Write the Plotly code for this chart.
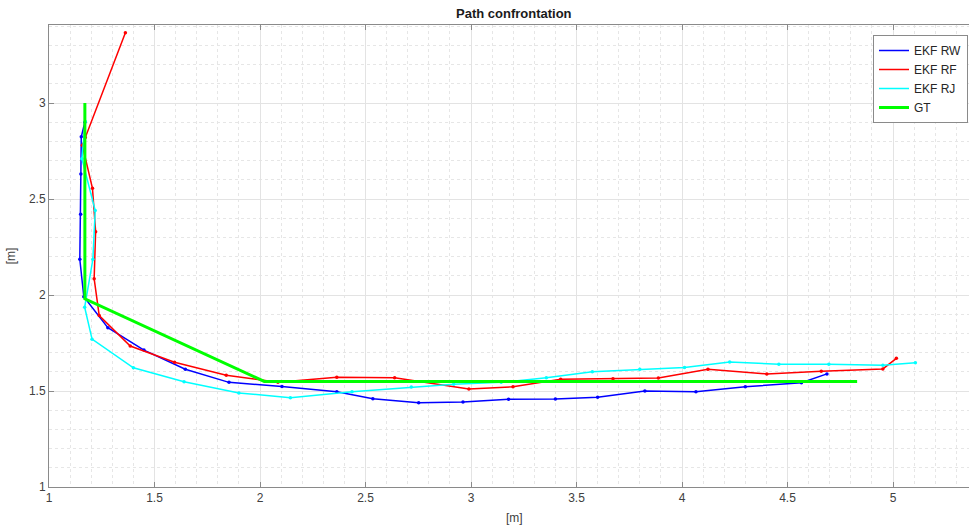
import plotly.graph_objects as go

# Estimated trajectories (x, y in metres)
ekf_rw_x = [1.170, 1.153, 1.151, 1.150, 1.146, 1.165, 1.279, 1.450, 1.646, 1.853, 2.104,
            2.364, 2.535, 2.752, 2.962, 3.178, 3.400, 3.600, 3.824, 4.066, 4.300, 4.566, 4.687]
ekf_rw_y = [2.900, 2.824, 2.630, 2.420, 2.186, 1.991, 1.830, 1.713, 1.613, 1.545, 1.524,
            1.496, 1.460, 1.439, 1.443, 1.457, 1.458, 1.467, 1.500, 1.496, 1.522, 1.543, 1.589]

ekf_rf_x = [1.362, 1.172, 1.158, 1.206, 1.221, 1.214, 1.238, 1.385, 1.595, 1.840, 2.085,
            2.364, 2.638, 2.990, 3.199, 3.425, 3.673, 3.888, 4.123, 4.402, 4.660, 4.952, 5.016]
ekf_rf_y = [3.366, 2.820, 2.780, 2.556, 2.330, 2.085, 1.893, 1.734, 1.650, 1.582, 1.545,
            1.571, 1.569, 1.510, 1.522, 1.561, 1.564, 1.568, 1.613, 1.589, 1.603, 1.615, 1.670]

ekf_rj_x = [1.172, 1.156, 1.219, 1.208, 1.169, 1.204, 1.400, 1.640, 1.900, 2.144, 2.436,
            2.717, 2.918, 3.143, 3.357, 3.575, 3.800, 4.012, 4.226, 4.459, 4.696, 4.952, 5.106]
ekf_rj_y = [2.903, 2.710, 2.440, 2.186, 1.936, 1.770, 1.621, 1.548, 1.490, 1.465, 1.496,
            1.521, 1.535, 1.545, 1.569, 1.600, 1.613, 1.623, 1.651, 1.639, 1.639, 1.634, 1.647]

# Ground truth path
gt_x = [1.17, 1.17, 2.02, 4.83]
gt_y = [3.00, 1.98, 1.55, 1.55]

x_ticks = [1, 1.5, 2, 2.5, 3, 3.5, 4, 4.5, 5]
y_ticks = [1, 1.5, 2, 2.5, 3]

FONT = "Liberation Sans, Arial, Helvetica, sans-serif"
AXIS_COLOR = "#8a8a8a"
TEXT_COLOR = "#404040"

fig = go.Figure()


def add_est(name, xs, ys, color):
    # path with point markers
    fig.add_trace(go.Scatter(
        x=xs, y=ys, name=name, mode="lines+markers", showlegend=False,
        line=dict(color=color, width=1.5),
        marker=dict(color=color, size=3.5, symbol="circle"),
    ))


def add_key(name, color, width):
    # line-only legend entry
    fig.add_trace(go.Scatter(
        x=[None], y=[None], name=name, mode="lines",
        line=dict(color=color, width=width),
    ))


add_est("EKF RW", ekf_rw_x, ekf_rw_y, "#0000ff")
add_est("EKF RF", ekf_rf_x, ekf_rf_y, "#ff0000")
add_est("EKF RJ", ekf_rj_x, ekf_rj_y, "#00ffff")
fig.add_trace(go.Scatter(
    x=gt_x, y=gt_y, name="GT", mode="lines", showlegend=False,
    line=dict(color="#00ff00", width=3),
))

add_key("EKF RW", "#0000ff", 1.5)
add_key("EKF RF", "#ff0000", 1.5)
add_key("EKF RJ", "#00ffff", 1.5)
add_key("GT", "#00ff00", 3)

W, H = 969, 527
ML, MR, MT, MB = 49, 0, 25, 40
plot_w = W - ML - MR

fig.update_layout(
    width=W, height=H,
    margin=dict(l=ML, r=MR, t=MT, b=MB, autoexpand=False),
    paper_bgcolor="white", plot_bgcolor="white",
    font=dict(family=FONT, size=12, color=TEXT_COLOR),
    showlegend=True,
    legend=dict(
        x=(968 - ML) / plot_w, y=(487 - 35) / (H - MT - MB),
        xanchor="right", yanchor="top",
        bgcolor="white", bordercolor=AXIS_COLOR, borderwidth=1,
        font=dict(family=FONT, size=12, color="#262626"),
        tracegroupgap=0, itemwidth=30,
    ),
    annotations=[
        dict(text="<b>Path confrontation</b>", xref="paper", yref="paper",
             x=(514 - ML) / plot_w, y=1, yshift=2, xanchor="center", yanchor="bottom",
             showarrow=False, font=dict(family=FONT, size=13, color="#1a1a1a")),
        dict(text="[m]", xref="paper", yref="paper",
             x=(514 - ML) / plot_w, y=0, yshift=-22, xanchor="center", yanchor="top",
             showarrow=False, font=dict(family=FONT, size=12, color=TEXT_COLOR)),
    ],
)

fig.update_xaxes(
    range=[1, 1 + plot_w / 211.0],
    tickvals=x_ticks, ticktext=[f"{v:g}" for v in x_ticks],
    ticks="inside", ticklen=5, tickcolor=AXIS_COLOR,
    showline=True, linecolor=AXIS_COLOR, linewidth=1, mirror="ticks",
    showgrid=True, gridcolor="#e3e3e3", gridwidth=1,
    minor=dict(dtick=0.1, showgrid=True, gridcolor="#e6e6e6", griddash="dot", ticklen=0),
    zeroline=False, automargin=False,
    tickfont=dict(family=FONT, size=12, color=TEXT_COLOR),
)

fig.update_yaxes(
    range=[1, 1 + (487 - 25) / 192.0],
    tickvals=y_ticks, ticktext=[f"{v:g}" for v in y_ticks],
    ticks="inside", ticklen=5, tickcolor=AXIS_COLOR,
    showline=True, linecolor=AXIS_COLOR, linewidth=1, mirror=False,
    showgrid=True, gridcolor="#e3e3e3", gridwidth=1,
    minor=dict(dtick=0.1, showgrid=True, gridcolor="#e6e6e6", griddash="dot", ticklen=0),
    zeroline=False, automargin=False,
    title=dict(text="[m]", standoff=10, font=dict(family=FONT, size=12, color=TEXT_COLOR)),
    tickfont=dict(family=FONT, size=12, color=TEXT_COLOR),
)

fig.write_html("out.html")
